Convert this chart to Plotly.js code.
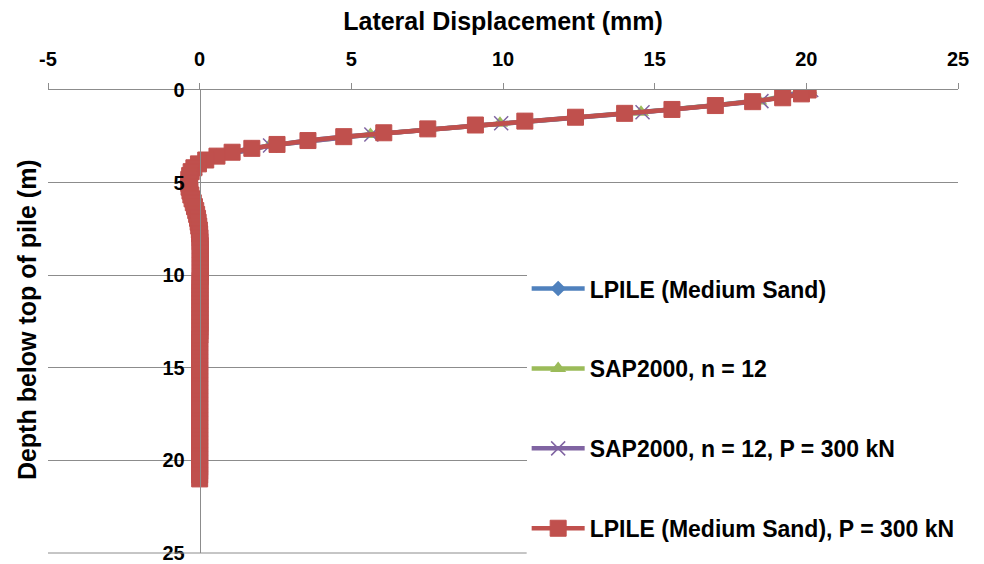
<!DOCTYPE html>
<html>
<head>
<meta charset="utf-8">
<script src="https://cdn.plot.ly/plotly-3.0.1.min.js"></script>
<style>
  html, body { margin: 0; padding: 0; background: #ffffff; }
  #chart { width: 984px; height: 564px; }
</style>
</head>
<body>
<div id="chart"></div>
<script>
// Depths (m) of the LPILE output nodes (0.21 m increments over the 21 m pile)
const lpileDepth = [
  0, 0.21, 0.42, 0.63, 0.84, 1.05, 1.26, 1.47, 1.68, 1.89,
  2.1, 2.31, 2.52, 2.73, 2.94, 3.15, 3.36, 3.57, 3.78, 3.99,
  4.2, 4.41, 4.62, 4.83, 5.04, 5.25, 5.46, 5.67, 5.88, 6.09,
  6.3, 6.51, 6.72, 6.93, 7.14, 7.35, 7.56, 7.77, 7.98, 8.19,
  8.4, 8.61, 8.82, 9.03, 9.24, 9.45, 9.66, 9.87, 10.08, 10.29,
  10.5, 10.71, 10.92, 11.13, 11.34, 11.55, 11.76, 11.97, 12.18, 12.39,
  12.6, 12.81, 13.02, 13.23, 13.44, 13.65, 13.86, 14.07, 14.28, 14.49,
  14.7, 14.91, 15.12, 15.33, 15.54, 15.75, 15.96, 16.17, 16.38, 16.59,
  16.8, 17.01, 17.22, 17.43, 17.64, 17.85, 18.06, 18.27, 18.48, 18.69,
  18.9, 19.11, 19.32, 19.53, 19.74, 19.95, 20.16, 20.37, 20.58, 20.79,
  21.0
];

// LPILE (Medium Sand) lateral displacement (mm)
const lpileDisp = [
  19.98, 19.76, 19.14, 18.16, 16.93, 15.51, 13.95, 12.34, 10.68, 9.05,
  7.49, 6.04, 4.73, 3.55, 2.54, 1.71, 1.06, 0.56, 0.19, -0.04,
  -0.19, -0.28, -0.33, -0.35, -0.36, -0.34, -0.32, -0.28, -0.25, -0.21,
  -0.17, -0.13, -0.10, -0.07, -0.05, -0.03, -0.01, 0.00, 0.01, 0.01,
  0.02, 0.02, 0.02, 0.02, 0.02, 0.02, 0.02, 0.02, 0.02, 0.01,
  0.01, 0.01, 0.01, 0.01, 0.01, 0.01, 0.01, 0.01, 0.01, 0.01,
  0.01, 0.01, 0.01, 0.01, 0.00, 0.00, 0.00, 0.00, 0.00, 0.00,
  0.00, 0.00, 0.00, 0.00, 0.00, 0.00, 0.00, 0.00, 0.00, 0.00,
  0.00, 0.00, 0.00, 0.00, 0.00, 0.00, 0.00, 0.00, 0.00, 0.00,
  0.00, 0.00, 0.00, 0.00, 0.00, 0.00, 0.00, 0.00, 0.00, 0.00,
  0.00
];

// LPILE (Medium Sand) with P = 300 kN, lateral displacement (mm)
const lpileDispP300 = [
  20.06, 19.84, 19.22, 18.23, 17.00, 15.57, 14.01, 12.39, 10.72, 9.09,
  7.52, 6.07, 4.75, 3.57, 2.55, 1.72, 1.07, 0.57, 0.20, -0.04,
  -0.19, -0.28, -0.33, -0.36, -0.36, -0.35, -0.32, -0.29, -0.25, -0.21,
  -0.17, -0.13, -0.10, -0.07, -0.05, -0.03, -0.01, 0.00, 0.01, 0.01,
  0.02, 0.02, 0.02, 0.02, 0.02, 0.02, 0.02, 0.02, 0.02, 0.01,
  0.01, 0.01, 0.01, 0.01, 0.01, 0.01, 0.01, 0.01, 0.01, 0.01,
  0.01, 0.01, 0.01, 0.01, 0.00, 0.00, 0.00, 0.00, 0.00, 0.00,
  0.00, 0.00, 0.00, 0.00, 0.00, 0.00, 0.00, 0.00, 0.00, 0.00,
  0.00, 0.00, 0.00, 0.00, 0.00, 0.00, 0.00, 0.00, 0.00, 0.00,
  0.00, 0.00, 0.00, 0.00, 0.00, 0.00, 0.00, 0.00, 0.00, 0.00,
  0.00
];

// Depths (m) of the SAP2000 frame nodes (0.6 m spacing)
const sapDepth = [
  0, 0.6, 1.2, 1.8, 2.4, 3.0, 3.6, 4.2, 4.8, 5.4,
  6.0, 6.6, 7.2, 7.8, 8.4, 9.0, 9.6, 10.2, 10.8, 11.4,
  12.0, 12.6, 13.2, 13.8, 14.4, 15.0, 15.6, 16.2, 16.8, 17.4,
  18.0, 18.6, 19.2, 19.8, 20.4, 21.0
];

// SAP2000, n = 12, lateral displacement (mm)
const sapDisp = [
  20.10, 18.45, 14.55, 9.90, 5.63, 2.30, 0.55, -0.15, -0.34, -0.33,
  -0.24, -0.13, -0.05, -0.01, 0.01, 0.02, 0.02, 0.02, 0.01, 0.01,
  0.01, 0.01, 0.00, 0.00, 0.00, 0.00, 0.00, 0.00, 0.00, 0.00,
  0.00, 0.00, 0.00, 0.00, 0.00, 0.00
];

// SAP2000, n = 12, P = 300 kN, lateral displacement (mm)
const sapDispP300 = [
  20.16, 18.52, 14.60, 9.94, 5.66, 2.32, 0.56, -0.15, -0.35, -0.33,
  -0.24, -0.13, -0.05, -0.01, 0.01, 0.02, 0.02, 0.02, 0.01, 0.01,
  0.01, 0.01, 0.00, 0.00, 0.00, 0.00, 0.00, 0.00, 0.00, 0.00,
  0.00, 0.00, 0.00, 0.00, 0.00, 0.00
];

const seriesNames = [
  'LPILE (Medium Sand)',
  'SAP2000, n = 12',
  'SAP2000, n = 12, P = 300 kN',
  'LPILE (Medium Sand), P = 300 kN'
];

const xTickValues = [-5, 0, 5, 10, 15, 20, 25];
const yTickValues = [0, 5, 10, 15, 20, 25];

const FONT = 'Liberation Sans, Arial, Helvetica, sans-serif';
const GRID = '#8c8c8c';
const LINE_W = 4.5;

const traces = [
  {
    x: lpileDisp, y: lpileDepth, name: seriesNames[0], legendgroup: 'g1',
    type: 'scatter', mode: 'lines+markers',
    line: { color: '#4f81bd', width: LINE_W },
    marker: { symbol: 'diamond', size: 12, color: '#4f81bd' }
  },
  {
    x: sapDisp, y: sapDepth, name: seriesNames[1], legendgroup: 'g2',
    type: 'scatter', mode: 'lines+markers',
    line: { color: '#9bbb59', width: LINE_W },
    marker: { symbol: 'triangle-up', size: 14, color: '#9bbb59' }
  },
  {
    x: sapDispP300, y: sapDepth, name: seriesNames[2], legendgroup: 'g3',
    type: 'scatter', mode: 'lines+markers',
    line: { color: '#8064a2', width: LINE_W },
    marker: { symbol: 'x-thin', size: 14, color: '#8064a2',
              line: { color: '#8064a2', width: 1.5 } }
  },
  {
    x: lpileDispP300, y: lpileDepth, name: seriesNames[3], legendgroup: 'g4',
    type: 'scatter', mode: 'lines+markers',
    line: { color: '#c0504d', width: LINE_W },
    marker: { symbol: 'square', size: 16, color: '#c0504d',
              line: { color: '#c0504d', width: 1 } }
  }
];

const xRange = [-5, 25];
const legendLeft = 0.526;

const layout = {
  width: 984,
  height: 564,
  margin: { l: 48, r: 26, t: 90, b: 11, pad: 0, autoexpand: false },
  paper_bgcolor: '#ffffff',
  plot_bgcolor: '#ffffff',
  font: { family: FONT, color: '#000000' },
  showlegend: true,
  xaxis: {
    side: 'top',
    range: xRange,
    tickmode: 'array',
    tickvals: xTickValues,
    ticktext: xTickValues.map(String),
    ticks: 'outside',
    ticklen: 6,
    tickwidth: 1,
    tickcolor: GRID,
    ticklabelstandoff: 9,
    showline: true,
    linecolor: GRID,
    linewidth: 1,
    showgrid: false,
    zeroline: false,
    tickfont: { family: FONT, size: 20, weight: 'bold', color: '#000000' },
    title: {
      text: 'Lateral Displacement (mm)',
      font: { family: FONT, size: 25, weight: 'bold', color: '#000000' },
      standoff: 10
    }
  },
  yaxis: {
    range: [25, 0],
    anchor: 'free',
    position: (0 - xRange[0]) / (xRange[1] - xRange[0]),
    tickmode: 'array',
    tickvals: yTickValues,
    ticktext: yTickValues.map(String),
    ticks: '',
    ticklabelstandoff: 11,
    showline: true,
    linecolor: GRID,
    linewidth: 1,
    showgrid: true,
    gridcolor: GRID,
    gridwidth: 1,
    zeroline: false,
    tickfont: { family: FONT, size: 20, weight: 'bold', color: '#000000' }
  },
  legend: {
    x: legendLeft,
    y: 0.6175,
    xanchor: 'left',
    yanchor: 'top',
    bgcolor: '#ffffff',
    borderwidth: 0,
    itemwidth: 53,
    tracegroupgap: 47,
    font: { family: FONT, size: 23, weight: 'bold', color: '#000000' }
  },
  // bottom border of the plotting area, running up to the legend box
  shapes: [
    {
      type: 'line', xref: 'paper', yref: 'paper',
      x0: 0, x1: legendLeft, y0: 0, y1: 0,
      line: { color: GRID, width: 1 }
    }
  ],
  annotations: [
    {
      text: 'Depth below top of pile (m)',
      xref: 'paper', yref: 'paper',
      x: -21 / 910, y: 0.503,
      xanchor: 'center', yanchor: 'middle',
      textangle: -90,
      showarrow: false,
      font: { family: FONT, size: 25, weight: 'bold', color: '#000000' }
    }
  ]
};

Plotly.newPlot('chart', traces, layout, { displayModeBar: false, staticPlot: true });
</script>
</body>
</html>
